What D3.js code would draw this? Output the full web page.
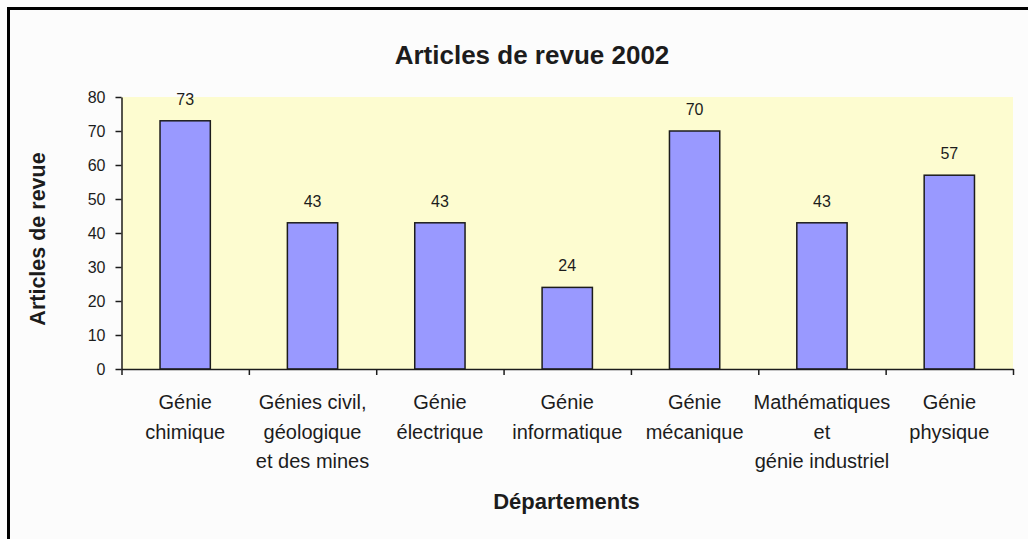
<!DOCTYPE html>
<html>
<head>
<meta charset="utf-8">
<script src="https://cdn.jsdelivr.net/npm/d3@7"></script>
<style>
    body { margin: 0; background: #fcfcfc; overflow: hidden; }
    text { font-family: Arial, "Liberation Sans", sans-serif; fill: #1c1c1c; }
    .axis path, .axis line { stroke: #1c1c1c; stroke-width: 1.5; }
    .axis text { font-size: 16px; }
    .bar { fill: #9999ff; stroke: #1c1c1c; stroke-width: 1.5; }
</style>
</head>
<body>
<div id="chart"></div>
<script>

// Data
var categories = ["chimique", "civil", "electrique", "informatique", "mecanique", "mathind", "physique"];
var categoryLabels = [
    ["Génie", "chimique"],
    ["Génies civil,", "géologique", "et des mines"],
    ["Génie", "électrique"],
    ["Génie", "informatique"],
    ["Génie", "mécanique"],
    ["Mathématiques", "et", "génie industriel"],
    ["Génie", "physique"]
];
var articles = [73, 43, 43, 24, 70, 43, 57];
var yTicks = [0, 10, 20, 30, 40, 50, 60, 70, 80];

var chartTitle = "Articles de revue 2002";
var yTitle = "Articles de revue";
var xTitle = "Départements";


/*
 *  ArticlesBarChart - Object constructor function
 */

ArticlesBarChart = function(_parentElement) {
    this.parentElement = _parentElement;
    this.initVis();
};

ArticlesBarChart.prototype.initVis = function() {
    var vis = this;
    vis.margin = { top: 97, right: 15, bottom: 170, left: 121.5 };

    vis.width = 1028 - vis.margin.left - vis.margin.right;
    vis.height = 539 - vis.margin.top - vis.margin.bottom;

    vis.root = d3.select("#" + vis.parentElement).append("svg")
        .attr("width", 1028)
        .attr("height", 539);

    // outer frame (right/bottom edges fall outside the picture)
    vis.root.append("rect")
        .attr("x", 8.5)
        .attr("y", 8.5)
        .attr("width", 1100)
        .attr("height", 600)
        .attr("fill", "#fcfcfc")
        .attr("stroke", "#000")
        .attr("stroke-width", 3);

    vis.svg = vis.root.append("g")
        .attr("transform", "translate(" + vis.margin.left + "," + vis.margin.top + ")");

    // plot area
    vis.svg.append("rect")
        .attr("width", vis.width)
        .attr("height", vis.height)
        .attr("fill", "#fdfcd0");

    // Scales and axes
    vis.x = d3.scaleBand()
        .domain(categories)
        .range([0, vis.width])
        .paddingInner(0.605)
        .paddingOuter(0.3025);

    vis.xEdges = d3.scaleLinear()
        .domain([0, categories.length])
        .range([0, vis.width]);

    vis.y = d3.scaleLinear()
        .domain([0, 80])
        .range([vis.height, 0]);

    vis.xAxis = d3.axisBottom(vis.xEdges)
        .tickValues(d3.range(categories.length + 1))
        .tickFormat("")
        .tickSizeInner(6)
        .tickSizeOuter(0);

    vis.yAxis = d3.axisLeft(vis.y)
        .tickValues(yTicks)
        .tickSizeInner(6)
        .tickSizeOuter(0)
        .tickPadding(10);

    vis.updateVis();
};

ArticlesBarChart.prototype.updateVis = function() {
    var vis = this;
    var rows = categories.map(function(c, i) {
        return { key: c, value: articles[i], lines: categoryLabels[i] };
    });

    // bars
    vis.svg.selectAll(".bar")
        .data(rows)
        .enter().append("rect")
        .attr("class", "bar")
        .attr("x", function(d) { return vis.x(d.key); })
        .attr("y", function(d) { return vis.y(d.value); })
        .attr("width", vis.x.bandwidth())
        .attr("height", function(d) { return vis.height - vis.y(d.value); });

    // value labels
    vis.svg.selectAll(".value-label")
        .data(rows)
        .enter().append("text")
        .attr("class", "value-label")
        .attr("x", function(d) { return vis.x(d.key) + vis.x.bandwidth() / 2; })
        .attr("y", function(d) { return vis.y(d.value) - 16; })
        .attr("text-anchor", "middle")
        .style("font-size", "16px")
        .text(function(d) { return d.value; });

    // axes
    vis.svg.append("g")
        .attr("class", "x-axis axis")
        .attr("transform", "translate(0," + vis.height + ")")
        .call(vis.xAxis);

    vis.svg.append("g")
        .attr("class", "y-axis axis")
        .call(vis.yAxis);

    // category labels (multi-line)
    var cat = vis.svg.selectAll(".cat-label")
        .data(rows)
        .enter().append("text")
        .attr("class", "cat-label")
        .attr("text-anchor", "middle")
        .style("font-size", "20px")
        .attr("transform", function(d) {
            return "translate(" + (vis.x(d.key) + vis.x.bandwidth() / 2) + "," + (vis.height + 40) + ")";
        });

    cat.selectAll("tspan")
        .data(function(d) { return d.lines; })
        .enter().append("tspan")
        .attr("x", 0)
        .attr("y", function(d, i) { return i * 29.7; })
        .text(function(d) { return d; });

    // titles
    vis.root.append("text")
        .attr("x", 532)
        .attr("y", 64)
        .attr("text-anchor", "middle")
        .style("font-size", "26px")
        .style("font-weight", "bold")
        .text(chartTitle);

    vis.root.append("text")
        .attr("transform", "translate(45,239) rotate(-90)")
        .attr("text-anchor", "middle")
        .style("font-size", "21.5px")
        .style("font-weight", "bold")
        .text(yTitle);

    vis.root.append("text")
        .attr("x", 566.5)
        .attr("y", 509)
        .attr("text-anchor", "middle")
        .style("font-size", "22px")
        .style("font-weight", "bold")
        .text(xTitle);
};

var chart = new ArticlesBarChart("chart");

</script>
</body>
</html>
